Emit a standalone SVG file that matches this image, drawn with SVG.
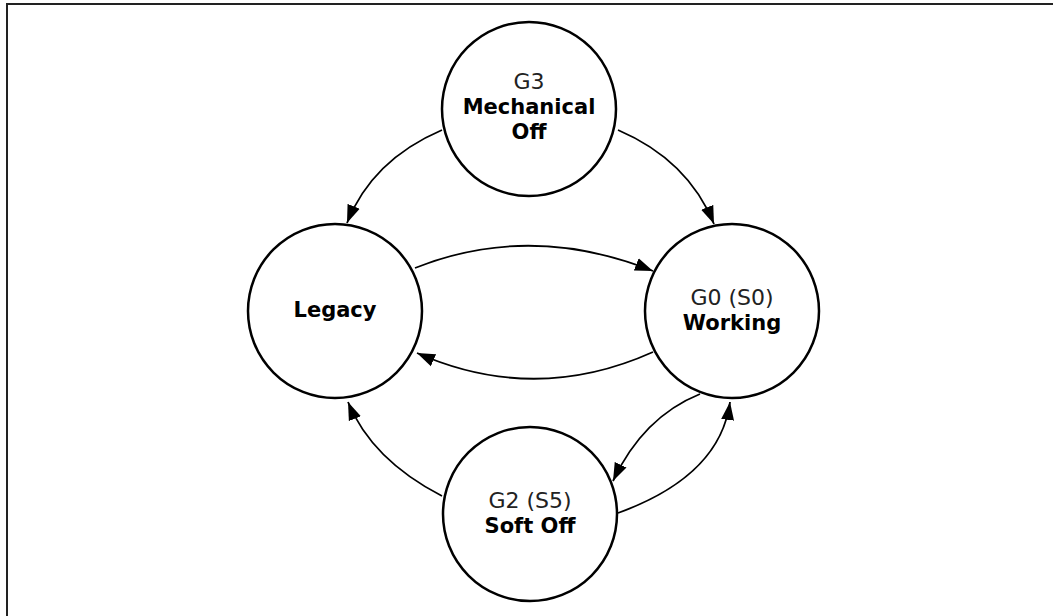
<svg xmlns="http://www.w3.org/2000/svg" width="1053" height="616" viewBox="0 0 1053 616">
<style>
.node{fill:#fff;stroke:#000;stroke-width:2.5}
.edge{fill:none;stroke:#000;stroke-width:1.8}
.t{font-family:"DejaVu Sans",Verdana,sans-serif;font-size:22px;fill:#222;text-anchor:middle}
.b{font-family:"DejaVu Sans",Verdana,sans-serif;font-size:21px;font-weight:bold;fill:#000;text-anchor:middle}
</style>
<defs>
<marker id="arr" markerUnits="userSpaceOnUse" markerWidth="19" markerHeight="14" refX="18" refY="7" orient="auto">
<path d="M0,0.5 L18,7 L0,13.5 z" fill="#000"/>
</marker>
</defs>
<rect x="0" y="0" width="1053" height="616" fill="#fff"/>
<rect x="7" y="4" width="1060" height="630" fill="none" stroke="#222" stroke-width="2"/>
<g id="connectors">
<path class="edge" d="M442,130 Q372,160 347,223" marker-end="url(#arr)"/>
<path class="edge" d="M618,130 Q688,160 714,224" marker-end="url(#arr)"/>
<path class="edge" d="M415,268 Q530,222 653,271" marker-end="url(#arr)"/>
<path class="edge" d="M653,352 Q535,405 417,353" marker-end="url(#arr)"/>
<path class="edge" d="M442,496 Q372,460 348,402" marker-end="url(#arr)"/>
<path class="edge" d="M700,394 Q643,417 613,481" marker-end="url(#arr)"/>
<path class="edge" d="M618,513 Q720,476 730,402" marker-end="url(#arr)"/>
</g>
<g id="g3">
<circle class="node" cx="529" cy="109" r="87"/>
<text class="t" x="529" y="89">G3</text>
<text class="b" x="529" y="114">Mechanical</text>
<text class="b" x="529" y="139">Off</text>
</g>
<g id="legacy">
<circle class="node" cx="335" cy="311" r="87"/>
<text class="b" x="335" y="317">Legacy</text>
</g>
<g id="working">
<circle class="node" cx="732" cy="311" r="87"/>
<text class="t" x="732" y="305">G0 (S0)</text>
<text class="b" x="732" y="330">Working</text>
</g>
<g id="softoff">
<circle class="node" cx="530" cy="514" r="87"/>
<text class="t" x="530" y="508">G2 (S5)</text>
<text class="b" x="530" y="533">Soft Off</text>
</g>
</svg>
